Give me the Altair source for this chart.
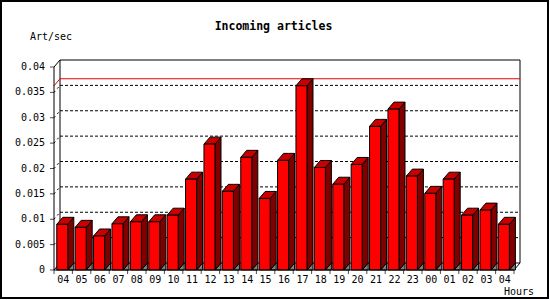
import altair as alt
import pandas as pd

hours = ["04", "05", "06", "07", "08", "09", "10", "11", "12", "13", "14", "15",
         "16", "17", "18", "19", "20", "21", "22", "23", "00", "01", "02", "03", "04"]
rate = [0.0090, 0.0084, 0.0067, 0.0091, 0.0095, 0.0095, 0.0108, 0.0179, 0.0248,
        0.0155, 0.0222, 0.0141, 0.0216, 0.0363, 0.0202, 0.0169, 0.0208, 0.0283,
        0.0317, 0.0185, 0.0151, 0.0179, 0.0108, 0.0118, 0.0090]
y_ticks = [0, 0.005, 0.01, 0.015, 0.02, 0.025, 0.03, 0.035, 0.04]
y_tick_labels = ["0", "0.005", "0.01", "0.015", "0.02", "0.025", "0.03", "0.035", "0.04"]
grid_levels = [0.005, 0.01, 0.015, 0.02, 0.025, 0.03, 0.035]

title_text = "Incoming articles"
y_title = "Art/sec"
x_title = "Hours"

W, H = 460, 203
N = len(hours)
YMAX = 0.04
DX = 6 * N / W          # depth in x (slot units)
DY = 7 * YMAX / H       # depth in y (data units)
GAP, BW = 0.15, 0.6
FONT = "DejaVu Sans Mono"

bars = pd.DataFrame({"i": range(N), "hour": hours, "v": rate})
bars["L"] = bars["i"] + GAP
bars["R"] = bars["L"] + BW
bars["c"] = bars["i"] + 0.5
bars["zero"] = 0.0

top_rows, side_rows, shadow_rows = [], [], []
for r in bars.itertuples():
    L, R, v = r.L, r.R, r.v
    top_rows += [
        {"b": r.i, "x": L, "y": v, "y2": v},
        {"b": r.i, "x": L + DX, "y": v + DY, "y2": v},
        {"b": r.i, "x": R, "y": v + DY, "y2": v},
        {"b": r.i, "x": R + DX, "y": v + DY, "y2": v + DY},
    ]
    side_rows += [
        {"b": r.i, "x": R, "y": v, "y2": 0},
        {"b": r.i, "x": R + DX, "y": v + DY, "y2": DY},
    ]
    shadow_rows += [
        {"b": r.i, "x": R, "y": 0, "y2": 0},
        {"b": r.i, "x": R + DX, "y": DY, "y2": 0},
    ]
top_df = pd.DataFrame(top_rows)
side_df = pd.DataFrame(side_rows)
shadow_df = pd.DataFrame(shadow_rows)

xs = alt.Scale(domain=[0, N], nice=False, zero=False)
ys = alt.Scale(domain=[0, YMAX], nice=False)

def X(f):
    return alt.X(f, scale=xs, axis=None)

def Y(f):
    return alt.Y(f, scale=ys, axis=None)

one = pd.DataFrame({"x": [DX], "x2": [N + DX], "y": [DY], "y2": [YMAX + DY]})
back = alt.Chart(one).mark_rect(filled=False, stroke="black", strokeWidth=1).encode(
    x=X("x:Q"), x2="x2:Q", y=Y("y:Q"), y2="y2:Q")

grid_df = pd.DataFrame({"x": [DX] * len(grid_levels), "x2": [N + DX] * len(grid_levels),
                        "y": [g + DY for g in grid_levels],
                        "fx": [0.0] * len(grid_levels), "fy": grid_levels})
grid = alt.Chart(grid_df).mark_rule(color="black", strokeDash=[3, 2], strokeWidth=1).encode(
    x=X("x:Q"), x2="x2:Q", y=Y("y:Q"))
grid_diag = alt.Chart(grid_df).mark_rule(color="black", strokeDash=[2, 3], strokeWidth=1).encode(
    x=X("fx:Q"), x2="x:Q", y=Y("fy:Q"), y2="y:Q")

vmax = max(rate)
red_df = pd.DataFrame({"fx": [0.0], "x": [DX], "x2": [N + DX], "fy": [vmax], "y": [vmax + DY]})
red = alt.Chart(red_df).mark_rule(color="#e00000", strokeWidth=1).encode(
    x=X("x:Q"), x2="x2:Q", y=Y("y:Q"))
red_diag = alt.Chart(red_df).mark_rule(color="#e00000", strokeWidth=1).encode(
    x=X("fx:Q"), x2="x:Q", y=Y("fy:Q"), y2="y:Q")

diag_df = pd.DataFrame({"x": [0.0, 0.0, float(N)], "x2": [DX, DX, N + DX],
                        "y": [YMAX, 0.0, 0.0], "y2": [YMAX + DY, DY, DY]})
diag = alt.Chart(diag_df).mark_rule(color="black", strokeWidth=1).encode(
    x=X("x:Q"), x2="x2:Q", y=Y("y:Q"), y2="y2:Q")

# front axes: y axis line with ticks and tick labels drawn from data
yax_df = pd.DataFrame({"y": y_ticks, "lab": y_tick_labels})
yaxis_line = alt.Chart(one).mark_rule(color="black", strokeWidth=1).encode(
    x=alt.value(0), y=alt.value(0), y2=alt.value(H))
xaxis_line = alt.Chart(one).mark_rule(color="black", strokeWidth=1).encode(
    x=alt.value(0), x2=alt.value(W), y=alt.value(H))
yticks = alt.Chart(yax_df).mark_tick(color="black", orient="horizontal", size=4,
                                     thickness=1, xOffset=-2).encode(
    x=alt.value(0), y=Y("y:Q"))
ylabels = alt.Chart(yax_df).mark_text(font=FONT, fontSize=10, color="black", align="right",
                                      baseline="middle", dx=-9).encode(
    x=alt.value(0), y=Y("y:Q"), text="lab:N")
xt_df = pd.DataFrame({"x": list(range(N + 1))})
xticks = alt.Chart(xt_df).mark_tick(color="black", orient="vertical", size=4,
                                    thickness=1, yOffset=2).encode(
    x=X("x:Q"), y=alt.value(H))

shadow = alt.Chart(shadow_df).mark_area(color="#808080", stroke="black", strokeWidth=1,
                                         interpolate="linear").encode(
    x=X("x:Q"), y=Y("y:Q"), y2="y2:Q", detail="b:N")
side = alt.Chart(side_df).mark_area(color="#800000", stroke="black", strokeWidth=1,
                                     interpolate="linear").encode(
    x=X("x:Q"), y=Y("y:Q"), y2="y2:Q", detail="b:N")
top = alt.Chart(top_df).mark_area(color="#c80000", stroke="black", strokeWidth=1,
                                   interpolate="linear").encode(
    x=X("x:Q"), y=Y("y:Q"), y2="y2:Q", detail="b:N")

front = alt.Chart(bars).mark_rect(color="#ff0000", stroke="black", strokeWidth=1).encode(
    x=X("L:Q"), x2="R:Q", y=Y("v:Q"), y2="zero:Q")

xlabels = alt.Chart(bars).mark_text(font=FONT, fontSize=10, color="black",
                                    baseline="middle", align="center").encode(
    x=X("c:Q"), y=alt.value(213), text="hour:N")

txt = pd.DataFrame({"t": [0]})
title = alt.Chart(txt).mark_text(text=title_text, font=FONT, fontSize=11.5, fontWeight="bold",
                                 color="black", align="center", baseline="middle").encode(
    x=alt.value(219.5), y=alt.value(-40))
ytitle = alt.Chart(txt).mark_text(text=y_title, font=FONT, fontSize=10, color="black",
                                  align="left", baseline="middle").encode(
    x=alt.value(-24), y=alt.value(-30))
xtitle = alt.Chart(txt).mark_text(text=x_title, font=FONT, fontSize=10, color="black",
                                  align="left", baseline="middle").encode(
    x=alt.value(450), y=alt.value(225))
border = alt.Chart(txt).mark_rect(filled=False, stroke="black", strokeWidth=2).encode(
    x=alt.value(-53), x2=alt.value(494), y=alt.value(-66), y2=alt.value(231))

chart = alt.layer(back, grid, grid_diag, red, red_diag, diag, shadow, side, top, front,
                  yaxis_line, xaxis_line, yticks, ylabels, xticks,
                  xlabels, title, ytitle, xtitle, border).properties(
    width=W, height=H,
    padding={"left": 54, "top": 67, "right": 36, "bottom": 30},
    autosize="none",
    background="white",
).configure_view(stroke=None)

chart.save("out.html", embed_options={"renderer": "svg", "actions": False})
